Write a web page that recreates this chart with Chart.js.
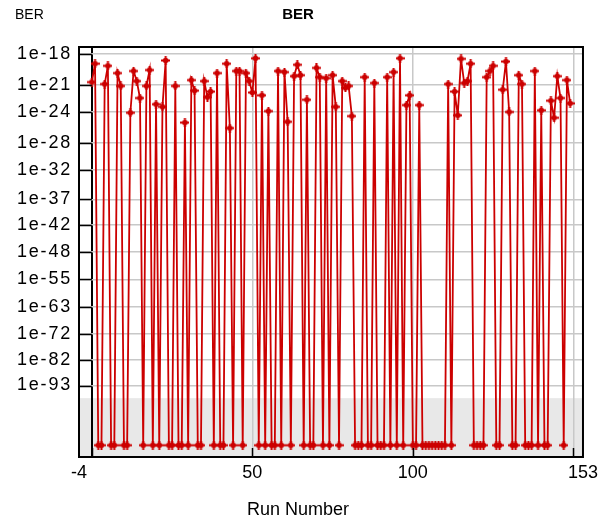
<!DOCTYPE html>
<html lang="en">
<head>
<meta charset="UTF-8">
<title>BER</title>
<script src="https://cdn.jsdelivr.net/npm/chart.js@4.4.0/dist/chart.umd.min.js"></script>
<style>
  body { margin: 0; background: #fff; }
  #wrap { width: 603px; height: 527px; }
</style>
</head>
<body>
<div id="wrap"><canvas id="berChart" width="603" height="527"></canvas></div>
<script>
// BER per run, given as the exponent n of 1e-n.
// Runs without any bit errors sit on the floor value F.
const F = 125;
const firstRun = 0;
const berExp = [
  20.7, 18.9, F, F, 20.9, 19.1, F, F, 19.8, 21.1,
  F, F, 24.1, 19.6, 20.6, 22.4, F, 21.1, 19.5, F,
  23.1, F, 23.4, 18.6, F, F, 21.1, F, F, 25.3,
  F, 20.5, 21.6, F, F, 20.6, 22.3, 21.7, F, 19.8,
  F, F, 18.9, 26.0, F, 19.6, 19.6, F, 19.8, 20.6,
  21.8, 18.4, F, 22.1, F, 23.9, F, F, 19.6, F,
  19.7, 25.2, F, 20.1, 19.0, 20.0, F, 22.6, F, F,
  19.3, 20.2, F, 20.3, F, 20.0, 23.4, F, 20.6, 21.3,
  21.1, 24.5, F, F, F, 20.2, F, F, 20.8, F,
  F, F, 20.2, F, 19.7, F, 18.4, F, 23.2, 22.1,
  F, F, 23.2, F, F, F, F, F, F, F,
  F, 20.9, F, 21.7, 24.4, 18.45, 20.8, 20.6, 18.9, F,
  F, F, F, 20.2, 19.6, 19.1, F, F, 21.5, 18.7,
  24.0, F, F, 20.0, 20.9, F, F, F, 19.6, F,
  23.8, F, F, 22.7, 24.7, 20.1, 22.4, F, 20.5, 23.0
];

// axis values
const yTickExp = [18, 21, 24, 28, 32, 37, 42, 48, 55, 63, 72, 82, 93];
const xTickLabels = [-4, 50, 100, 153];
const xGridAt = [0, 50, 100, 150];
const xMin = -4, xMax = 153;
const yTop = 17.4, yBottom = 132.5;
const bandFrom = 99; // shaded zone below 1e-99

const red = '#cc0000';
const fontFamily = '"Liberation Sans", Arial, sans-serif';

// small filled star marker
function makeMarker() {
  const c = document.createElement('canvas');
  c.width = 9; c.height = 9;
  const g = c.getContext('2d');
  g.fillStyle = red;
  g.fillRect(3.5, 0, 2, 9);
  g.fillRect(0, 3.5, 9, 2);
  g.beginPath();
  g.arc(4.5, 4.5, 2.8, 0, Math.PI * 2);
  g.fill();
  return c;
}

const points = berExp.map(function (e, i) { return { x: firstRun + i, y: e }; });

const berDecor = {
  id: 'berDecor',
  beforeDraw(chart) {
    const { ctx, chartArea: a, scales } = chart;
    const top = scales.y.getPixelForValue(bandFrom);
    ctx.save();
    ctx.fillStyle = '#e8e8e8';
    ctx.fillRect(a.left, top, a.right - a.left, a.bottom - top);
    ctx.restore();
  },
  afterDraw(chart) {
    const { ctx, chartArea: a, scales } = chart;
    const x0 = scales.x2.getPixelForValue(0);
    ctx.save();
    ctx.strokeStyle = '#000';
    ctx.lineWidth = 1.5;
    // y tick marks between the frame and the zero line
    yTickExp.forEach(function (v) {
      const py = Math.round(scales.y.getPixelForValue(v)) + 0.5;
      ctx.beginPath(); ctx.moveTo(a.left, py); ctx.lineTo(x0, py); ctx.stroke();
    });
    // x tick marks rising from the bottom
    xGridAt.forEach(function (v) {
      const px = Math.round(scales.x2.getPixelForValue(v)) + 0.5;
      ctx.beginPath(); ctx.moveTo(px, a.bottom); ctx.lineTo(px, a.bottom - 9); ctx.stroke();
    });
    // frame
    ctx.lineWidth = 2;
    ctx.strokeRect(a.left, a.top, a.right - a.left, a.bottom - a.top);
    // titles
    ctx.fillStyle = '#000';
    ctx.textBaseline = 'middle';
    ctx.font = 'bold 15px ' + fontFamily;
    ctx.textAlign = 'center';
    ctx.fillText('BER', 298, 15);
    ctx.font = '14px ' + fontFamily;
    ctx.textAlign = 'left';
    ctx.fillText('BER', 15, 15);
    ctx.textAlign = 'center';
    ctx.font = '18px ' + fontFamily;
    ctx.fillText('Run Number', 298, 510);
    ctx.restore();
  }
};

new Chart(document.getElementById('berChart'), {
  type: 'line',
  data: {
    datasets: [{
      label: 'BER',
      data: points,
      borderColor: red,
      backgroundColor: red,
      borderWidth: 1.8,
      pointStyle: makeMarker(),
      pointRadius: 4,
      tension: 0
    }]
  },
  options: {
    responsive: false,
    animation: false,
    events: [],
    layout: { padding: { top: 47, right: 17, left: 0, bottom: 0 } },
    plugins: {
      legend: { display: false },
      tooltip: { enabled: false },
      title: { display: false }
    },
    scales: {
      x: {
        type: 'linear',
        position: 'bottom',
        min: xMin,
        max: xMax,
        afterBuildTicks(scale) { scale.ticks = xTickLabels.map(function (v) { return { value: v }; }); },
        afterFit(scale) { scale.height = 70; },
        grid: { display: false, drawTicks: false },
        border: { display: false },
        ticks: {
          color: '#000',
          padding: 5,
          maxRotation: 0,
          font: { family: fontFamily, size: 18 }
        }
      },
      x2: {
        type: 'linear',
        position: 'top',
        min: xMin,
        max: xMax,
        afterBuildTicks(scale) { scale.ticks = xGridAt.map(function (v) { return { value: v }; }); },
        afterFit(scale) { scale.height = 0; },
        ticks: { display: false },
        border: { display: false },
        grid: {
          drawTicks: false,
          color: function (c) { return c.tick && c.tick.value === 0 ? '#000' : '#c8c8c8'; },
          lineWidth: function (c) { return c.tick && c.tick.value === 0 ? 2 : 1.5; }
        }
      },
      y: {
        type: 'logarithmic',
        reverse: true,
        min: yTop,
        max: yBottom,
        afterBuildTicks(scale) { scale.ticks = yTickExp.map(function (v) { return { value: v }; }); },
        afterFit(scale) {
          scale.width = 79;
          // the y labels are drawn slightly spaced out
          if (!scale._spaced) {
            const drawLabels = scale.drawLabels;
            scale.drawLabels = function (area) {
              this.ctx.save();
              this.ctx.letterSpacing = '1.8px';
              drawLabels.call(this, area);
              this.ctx.restore();
            };
            scale._spaced = true;
          }
        },
        border: { display: false },
        grid: { drawTicks: false, color: '#c8c8c8', lineWidth: 1.5 },
        ticks: {
          color: '#000',
          padding: 7,
          font: { family: fontFamily, size: 18 },
          callback: function (v) { return '1e-' + v; }
        }
      }
    }
  },
  plugins: [berDecor]
});
</script>
</body>
</html>
